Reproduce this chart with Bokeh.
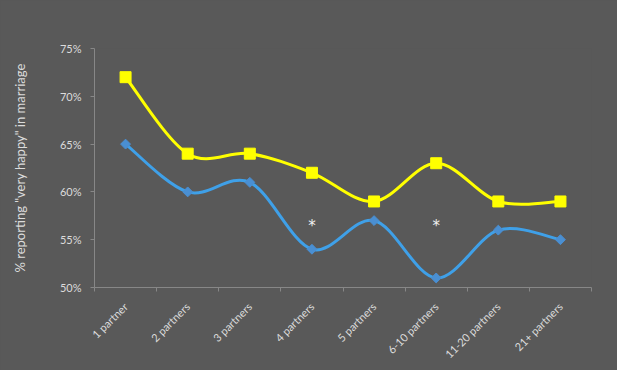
from math import pi
from bokeh.plotting import figure
from bokeh.models import Range1d, FixedTicker, PrintfTickFormatter
from bokeh.core.properties import value
from bokeh.embed import file_html
from bokeh.resources import INLINE

categories = ["1 partner", "2 partners", "3 partners", "4 partners", "5 partners",
              "6-10 partners", "11-20 partners", "21+ partners"]
yellow_values = [72, 64, 64, 62, 59, 63, 59, 59]
blue_values = [65, 60, 61, 54, 57, 51, 56, 55]
star_categories = ["4 partners", "6-10 partners"]
star_level = 56.8
y_ticks = [50, 55, 60, 65, 70, 75]

BG = "#595959"
AXIS = "#878787"
LABEL = "#dcdcdc"
FONT = "Lato"

xs = [i + 0.5 for i in range(len(categories))]

p = figure(width=617, height=370, output_backend="svg", toolbar_location=None,
           x_range=Range1d(0, len(categories)), y_range=Range1d(50, 75),
           min_border_left=94, min_border_right=26, min_border_top=48, min_border_bottom=83)
p.background_fill_color = BG
p.border_fill_color = BG
p.outline_line_color = None
p.grid.visible = False


def smooth(xv, yv):
    # Excel-like smoothed segments (Catmull-Rom as cubic Bezier)
    n = len(xv)
    out = dict(x0=[], y0=[], x1=[], y1=[], cx0=[], cy0=[], cx1=[], cy1=[])
    for i in range(n - 1):
        a = max(i - 1, 0)
        b = min(i + 2, n - 1)
        out["x0"].append(xv[i]); out["y0"].append(yv[i])
        out["x1"].append(xv[i + 1]); out["y1"].append(yv[i + 1])
        out["cx0"].append(xv[i] + (xv[i + 1] - xv[a]) / 6)
        out["cy0"].append(yv[i] + (yv[i + 1] - yv[a]) / 6)
        out["cx1"].append(xv[i + 1] - (xv[b] - xv[i]) / 6)
        out["cy1"].append(yv[i + 1] - (yv[b] - yv[i]) / 6)
    return out


p.bezier(line_color="#ffff00", line_width=3, **smooth(xs, yellow_values))
p.bezier(line_color="#3fa0e8", line_width=3, **smooth(xs, blue_values))

p.scatter(xs, yellow_values, marker="square", size=11, fill_color="#ffff00",
          line_color="#ffff00")
p.scatter(xs, blue_values, marker="square", angle=pi / 4, size=7,
          fill_color="#4a8fd2", line_color="#4a8fd2")

sx = [xs[categories.index(c)] for c in star_categories]
p.text(sx, [star_level] * len(sx), text=["*"] * len(sx), text_color="#f0f0f0",
       text_font=value("DejaVu Sans"), text_font_size="15px", text_align="center",
       text_baseline="middle", y_offset=4)

xa = p.xaxis[0]
xa.ticker = FixedTicker(ticks=xs, minor_ticks=list(range(len(categories) + 1)))
xa.major_label_overrides = {x: c for x, c in zip(xs, categories)}
xa.major_tick_line_color = None
xa.minor_tick_line_color = AXIS
xa.minor_tick_in = 0
xa.minor_tick_out = 4
xa.major_label_orientation = pi / 4
xa.major_label_standoff = 11

ya = p.yaxis[0]
ya.ticker = FixedTicker(ticks=y_ticks)
ya.formatter = PrintfTickFormatter(format="%d%%")
ya.major_tick_in = 0
ya.major_tick_out = 4
ya.major_tick_line_color = AXIS
ya.minor_tick_line_color = None
ya.major_label_standoff = 9
ya.axis_label = '% reporting "very happy" in marriage'
ya.axis_label_standoff = 29
ya.axis_label_text_font_style = "normal"
ya.axis_label_text_font_size = "13px"
ya.axis_label_text_color = LABEL
ya.axis_label_text_font = FONT

for ax in (xa, ya):
    ax.axis_line_color = AXIS
    ax.major_label_text_color = LABEL
    ax.major_label_text_font = FONT
    ax.major_label_text_font_size = "11px"

html = file_html(p, INLINE)
html = html.replace("<body>", '<body style="background:#595959">')
open("out.html", "w").write(html)
